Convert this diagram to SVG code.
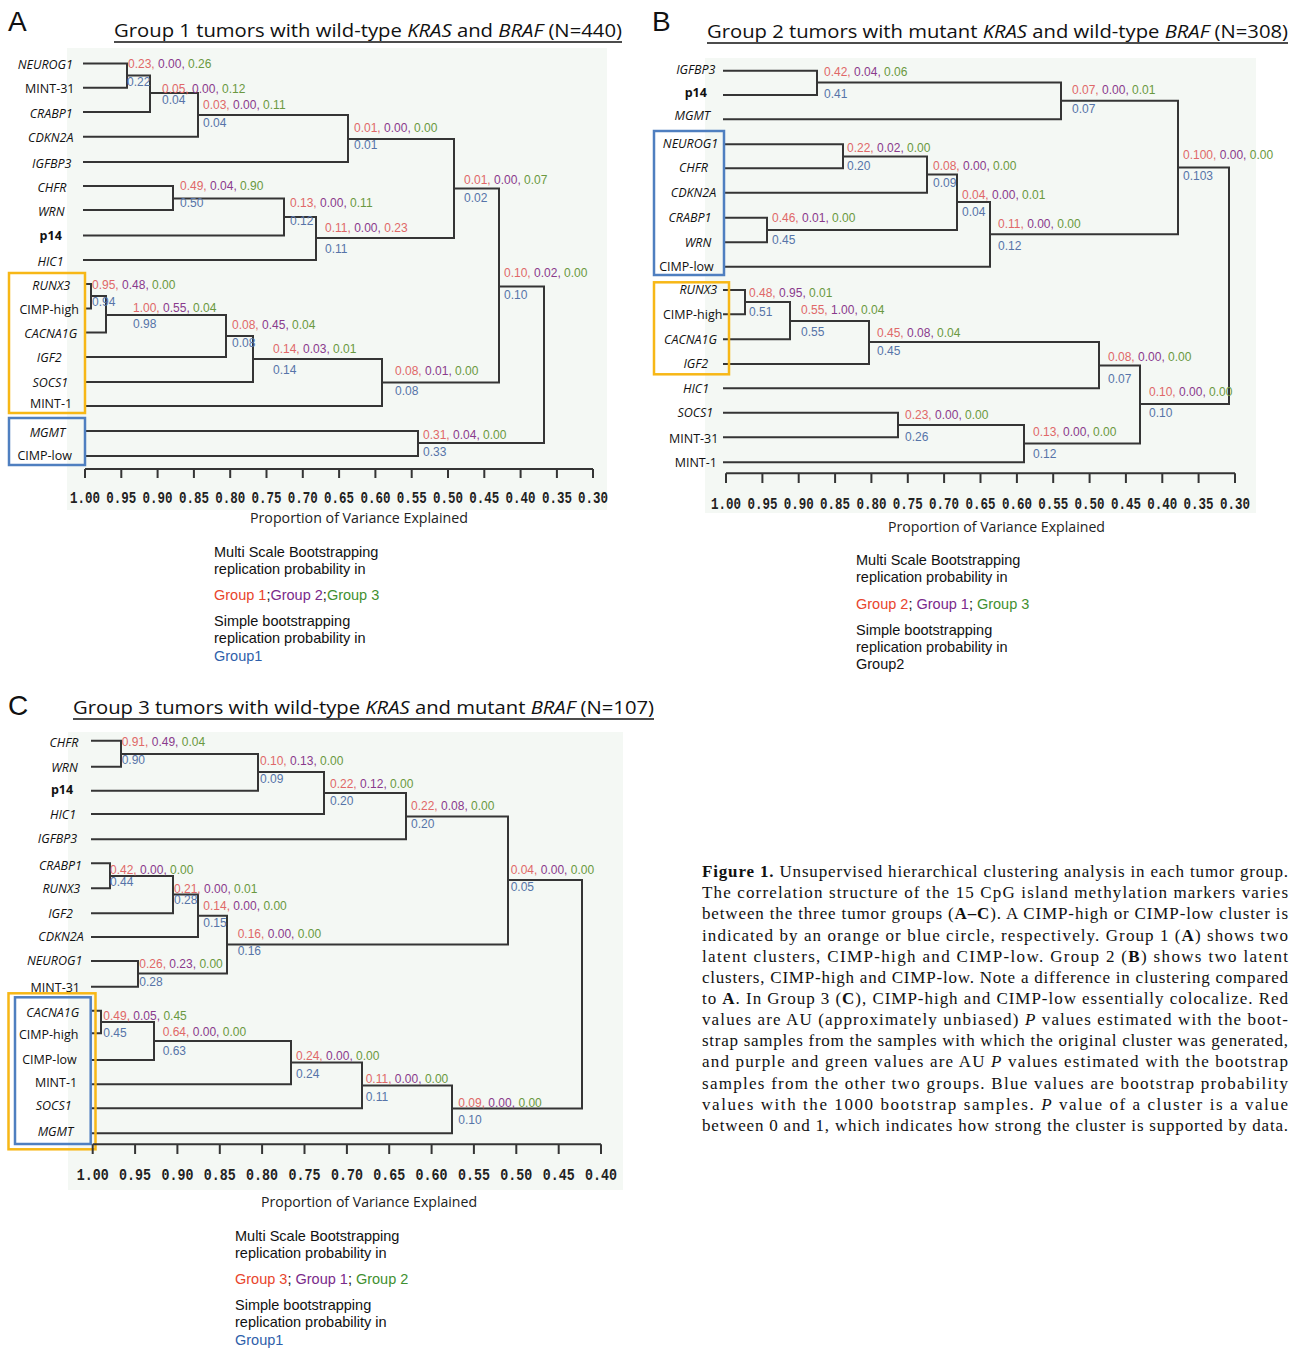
<svg xmlns="http://www.w3.org/2000/svg" width="1290" height="1348" viewBox="0 0 1290 1348">
<style>
.bg{fill:#f4f8f4}
.ln{fill:none;stroke:#353535;stroke-width:2}
.ax{fill:none;stroke:#353535;stroke-width:2}
.v{font-family:"Liberation Sans",Arial,sans-serif;font-size:12px}
.r{fill:#e06868}.p{fill:#8a3a8c}.g{fill:#6a9840}.b{fill:#5674a8}
.lab{font-family:"Open Sans","Liberation Sans",sans-serif;font-size:12.5px;text-anchor:middle;fill:#111}
.it{font-style:italic}.bd{font-weight:bold}
.tk{font-family:"Liberation Mono",monospace;font-weight:bold;font-size:16.5px;text-anchor:middle;fill:#222}
.xl{font-family:"Open Sans","Liberation Sans",sans-serif;font-size:14px;fill:#222}
.ttl{font-family:"Open Sans","Liberation Sans",sans-serif;font-size:19px;fill:#111}
.pl{font-family:"Liberation Sans",Arial,sans-serif;font-size:28px;fill:#111}
.lg{font-family:"Liberation Sans",Arial,sans-serif;font-size:14.5px;fill:#111}
.lr{fill:#e8452c}.lp{fill:#7a2a8a}.lgn{fill:#3f9030}.lb{fill:#2f5faa}
.ob{fill:none;stroke:#f7b716;stroke-width:2.5}
.bb{fill:none;stroke:#4f7fc0;stroke-width:2.5}
.cap{font-family:"Liberation Serif","Times New Roman",serif;font-size:17px;fill:#111}
</style>

<!-- Panel backgrounds -->
<rect class="bg" x="67" y="48" width="540" height="462"/>
<rect class="bg" x="705" y="58" width="551" height="455"/>
<rect class="bg" x="68" y="732" width="555" height="458"/>

<!-- Panel letters & titles -->
<text class="pl" x="8" y="31">A</text>
<text class="pl" x="652" y="31">B</text>
<text class="pl" x="8" y="715">C</text>
<text class="ttl" x="114" y="37" textLength="508" lengthAdjust="spacingAndGlyphs">Group 1 tumors with wild-type <tspan class="it">KRAS</tspan> and <tspan class="it">BRAF</tspan> (N=440)</text>
<line x1="114" y1="42" x2="622" y2="42" stroke="#111" stroke-width="1.5"/>
<text class="ttl" x="707" y="38" textLength="581" lengthAdjust="spacingAndGlyphs">Group 2 tumors with mutant <tspan class="it">KRAS</tspan> and wild-type <tspan class="it">BRAF</tspan> (N=308)</text>
<line x1="707" y1="43" x2="1288" y2="43" stroke="#111" stroke-width="1.5"/>
<text class="ttl" x="73" y="714" textLength="581" lengthAdjust="spacingAndGlyphs">Group 3 tumors with wild-type <tspan class="it">KRAS</tspan> and mutant <tspan class="it">BRAF</tspan> (N=107)</text>
<line x1="73" y1="719" x2="654" y2="719" stroke="#111" stroke-width="1.5"/>

<!-- Connectors -->
<g id="connectors">
<g id="connectors-A" class="ln">
<path d="M83 63.5 H127 V87.7 H83"/>
<path d="M127 75.5 H150 V112 H83"/>
<path d="M150 93 H198 V136.7 H83"/>
<path d="M198 115 H348 V162 H83"/>
<path d="M83 186 H173 V210 H83"/>
<path d="M173 198.5 H284 V235.5 H83"/>
<path d="M284 217 H316 V260 H83"/>
<path d="M348 139 H454 V238 H316"/>
<path d="M84 284 H91 V308.5 H84"/>
<path d="M91 296 H106 V332.5 H84"/>
<path d="M106 315 H226 V357 H84"/>
<path d="M226 336 H253 V382 H84"/>
<path d="M253 359 H382 V406 H84"/>
<path d="M454 188.5 H499 V382.5 H382"/>
<path d="M84 431 H418 V456 H84"/>
<path d="M499 286.5 H544 V443 H418"/>
</g>
<g id="connectors-B" class="ln">
<path d="M723 70.7 H817 V95 H723"/>
<path d="M817 82.5 H1061 V119.3 H723"/>
<path d="M723 144.3 H843 V168.3 H723"/>
<path d="M843 156.5 H927 V192.7 H723"/>
<path d="M723 217.7 H767 V242.3 H723"/>
<path d="M927 174.5 H957 V230 H767"/>
<path d="M957 202 H990 V266.7 H723"/>
<path d="M1061 100.7 H1178 V234.3 H990"/>
<path d="M723 290 H745 V314.3 H723"/>
<path d="M745 302 H790 V339.3 H723"/>
<path d="M790 321 H869 V364 H723"/>
<path d="M869 342 H1099 V388.3 H723"/>
<path d="M723 412.7 H898 V437.3 H723"/>
<path d="M898 425 H1024 V462.3 H723"/>
<path d="M1099 365.5 H1140 V443.5 H1024"/>
<path d="M1178 167.5 H1229 V404 H1140"/>
</g>
<g id="connectors-C" class="ln">
<path d="M91 740.7 H121 V766.7 H91"/>
<path d="M121 754 H258 V790.7 H91"/>
<path d="M258 772 H324 V814 H91"/>
<path d="M324 793 H406 V839.3 H91"/>
<path d="M91 863.3 H110 V888.3 H91"/>
<path d="M110 876 H173 V913.3 H91"/>
<path d="M173 894.5 H198 V937 H91"/>
<path d="M91 961 H138 V986.7 H91"/>
<path d="M198 915.7 H227 V973.5 H138"/>
<path d="M406 816.5 H508 V944.5 H227"/>
<path d="M91 1010.7 H101 V1033.3 H91"/>
<path d="M101 1022 H154 V1060 H91"/>
<path d="M154 1041 H291 V1084.3 H91"/>
<path d="M291 1062.5 H362 V1108.3 H91"/>
<path d="M362 1085.5 H452 V1133.3 H91"/>
<path d="M508 880 H582 V1108.5 H452"/>
</g>
</g>

<!-- Leaf nodes A -->
<g id="nodes-A">
<g id="A-NEUROG1"><text class="lab it" x="45.3" y="69">NEUROG1</text></g>
<g id="A-MINT-31"><text class="lab" x="49.8" y="93">MINT-31</text></g>
<g id="A-CRABP1"><text class="lab it" x="51.2" y="117.5">CRABP1</text></g>
<g id="A-CDKN2A"><text class="lab it" x="50.8" y="142">CDKN2A</text></g>
<g id="A-IGFBP3"><text class="lab it" x="51.7" y="167.5">IGFBP3</text></g>
<g id="A-CHFR"><text class="lab it" x="52" y="192">CHFR</text></g>
<g id="A-WRN"><text class="lab it" x="51.2" y="215.5">WRN</text></g>
<g id="A-p14"><text class="lab bd" x="50.7" y="240">p14</text></g>
<g id="A-HIC1"><text class="lab it" x="50.5" y="266">HIC1</text></g>
<g id="A-RUNX3"><text class="lab it" x="51.2" y="290">RUNX3</text></g>
<g id="A-CIMP-high"><text class="lab" x="49.2" y="314">CIMP-high</text></g>
<g id="A-CACNA1G"><text class="lab it" x="50.8" y="338">CACNA1G</text></g>
<g id="A-IGF2"><text class="lab it" x="49.2" y="362">IGF2</text></g>
<g id="A-SOCS1"><text class="lab it" x="50.3" y="387">SOCS1</text></g>
<g id="A-MINT-1"><text class="lab" x="51" y="408">MINT-1</text></g>
<g id="A-MGMT"><text class="lab it" x="47.5" y="436.5">MGMT</text></g>
<g id="A-CIMP-low"><text class="lab" x="44.7" y="460">CIMP-low</text></g>
<rect class="ob" x="9" y="273" width="76" height="140"/>
<rect class="bb" x="9" y="418" width="76" height="47"/>
</g>

<!-- Values A -->
<g id="values-A" class="v">
<text x="128" y="68"><tspan class="r">0.23,</tspan> <tspan class="p">0.00,</tspan> <tspan class="g">0.26</tspan></text><text class="b" x="127" y="86">0.22</text>
<text x="162" y="92.5"><tspan class="r">0.05,</tspan> <tspan class="p">0.00,</tspan> <tspan class="g">0.12</tspan></text><text class="b" x="162" y="104">0.04</text>
<text x="203" y="109"><tspan class="r">0.03,</tspan> <tspan class="p">0.00,</tspan> <tspan class="g">0.11</tspan></text><text class="b" x="203" y="127">0.04</text>
<text x="354" y="131.5"><tspan class="r">0.01,</tspan> <tspan class="p">0.00,</tspan> <tspan class="g">0.00</tspan></text><text class="b" x="354" y="149">0.01</text>
<text x="464" y="184"><tspan class="r">0.01,</tspan> <tspan class="p">0.00,</tspan> <tspan class="g">0.07</tspan></text><text class="b" x="464" y="201.5">0.02</text>
<text x="180" y="190"><tspan class="r">0.49,</tspan> <tspan class="p">0.04,</tspan> <tspan class="g">0.90</tspan></text><text class="b" x="180" y="207">0.50</text>
<text x="290" y="206.5"><tspan class="r">0.13,</tspan> <tspan class="p">0.00,</tspan> <tspan class="g">0.11</tspan></text><text class="b" x="290" y="225">0.12</text>
<text x="325" y="232"><tspan class="r">0.11,</tspan> <tspan class="p">0.00,</tspan> <tspan class="r">0.23</tspan></text><text class="b" x="325" y="253">0.11</text>
<text x="504" y="277"><tspan class="r">0.10,</tspan> <tspan class="p">0.02,</tspan> <tspan class="g">0.00</tspan></text><text class="b" x="504" y="299">0.10</text>
<text x="92" y="289"><tspan class="r">0.95,</tspan> <tspan class="p">0.48,</tspan> <tspan class="g">0.00</tspan></text><text class="b" x="92" y="306">0.94</text>
<text x="133" y="311.5"><tspan class="r">1.00,</tspan> <tspan class="p">0.55,</tspan> <tspan class="g">0.04</tspan></text><text class="b" x="133" y="328">0.98</text>
<text x="232" y="329"><tspan class="r">0.08,</tspan> <tspan class="p">0.45,</tspan> <tspan class="g">0.04</tspan></text><text class="b" x="232" y="347">0.08</text>
<text x="273" y="353"><tspan class="r">0.14,</tspan> <tspan class="p">0.03,</tspan> <tspan class="g">0.01</tspan></text><text class="b" x="273" y="374">0.14</text>
<text x="395" y="375"><tspan class="r">0.08,</tspan> <tspan class="p">0.01,</tspan> <tspan class="g">0.00</tspan></text><text class="b" x="395" y="395">0.08</text>
<text x="423" y="439"><tspan class="r">0.31,</tspan> <tspan class="p">0.04,</tspan> <tspan class="g">0.00</tspan></text><text class="b" x="423" y="456">0.33</text>
</g>

<!-- Axis A -->
<g id="axis-A">
<path class="ax" d="M85 469 H593 M85 469 V478 M121.3 469 V478 M157.6 469 V478 M193.9 469 V478 M230.2 469 V478 M266.5 469 V478 M302.8 469 V478 M339.1 469 V478 M375.4 469 V478 M411.7 469 V478 M448 469 V478 M484.3 469 V478 M520.6 469 V478 M556.9 469 V478 M593 469 V478"/>
<text class="tk" x="85" y="503" textLength="30" lengthAdjust="spacingAndGlyphs">1.00</text>
<text class="tk" x="121.3" y="503" textLength="30" lengthAdjust="spacingAndGlyphs">0.95</text>
<text class="tk" x="157.6" y="503" textLength="30" lengthAdjust="spacingAndGlyphs">0.90</text>
<text class="tk" x="193.9" y="503" textLength="30" lengthAdjust="spacingAndGlyphs">0.85</text>
<text class="tk" x="230.2" y="503" textLength="30" lengthAdjust="spacingAndGlyphs">0.80</text>
<text class="tk" x="266.5" y="503" textLength="30" lengthAdjust="spacingAndGlyphs">0.75</text>
<text class="tk" x="302.8" y="503" textLength="30" lengthAdjust="spacingAndGlyphs">0.70</text>
<text class="tk" x="339.1" y="503" textLength="30" lengthAdjust="spacingAndGlyphs">0.65</text>
<text class="tk" x="375.4" y="503" textLength="30" lengthAdjust="spacingAndGlyphs">0.60</text>
<text class="tk" x="411.7" y="503" textLength="30" lengthAdjust="spacingAndGlyphs">0.55</text>
<text class="tk" x="448" y="503" textLength="30" lengthAdjust="spacingAndGlyphs">0.50</text>
<text class="tk" x="484.3" y="503" textLength="30" lengthAdjust="spacingAndGlyphs">0.45</text>
<text class="tk" x="520.6" y="503" textLength="30" lengthAdjust="spacingAndGlyphs">0.40</text>
<text class="tk" x="556.9" y="503" textLength="30" lengthAdjust="spacingAndGlyphs">0.35</text>
<text class="tk" x="593" y="503" textLength="30" lengthAdjust="spacingAndGlyphs">0.30</text>
<text class="xl" x="250" y="523" textLength="218" lengthAdjust="spacingAndGlyphs">Proportion of Variance Explained</text>
</g>

<!-- Legend A -->
<g id="legend-A" class="lg">
<text x="214" y="557">Multi Scale Bootstrapping</text>
<text x="214" y="574">replication probability in</text>
<text x="214" y="600"><tspan class="lr">Group 1</tspan>;<tspan class="lp">Group 2</tspan>;<tspan class="lgn">Group 3</tspan></text>
<text x="214" y="626">Simple bootstrapping</text>
<text x="214" y="643">replication probability in</text>
<text x="214" y="661" class="lb">Group1</text>
</g>

<!-- Leaf nodes B -->
<g id="nodes-B">
<g id="B-IGFBP3"><text class="lab it" x="695.8" y="74">IGFBP3</text></g>
<g id="B-p14"><text class="lab bd" x="695.8" y="96.5">p14</text></g>
<g id="B-MGMT"><text class="lab it" x="692.3" y="120">MGMT</text></g>
<g id="B-NEUROG1"><text class="lab it" x="690.5" y="148">NEUROG1</text></g>
<g id="B-CHFR"><text class="lab it" x="693.5" y="172">CHFR</text></g>
<g id="B-CDKN2A"><text class="lab it" x="693.5" y="196.5">CDKN2A</text></g>
<g id="B-CRABP1"><text class="lab it" x="690" y="222">CRABP1</text></g>
<g id="B-WRN"><text class="lab it" x="698" y="246.5">WRN</text></g>
<g id="B-CIMP-low"><text class="lab" x="686.5" y="271">CIMP-low</text></g>
<g id="B-RUNX3"><text class="lab it" x="698.3" y="294">RUNX3</text></g>
<g id="B-CIMP-high"><text class="lab" x="692.7" y="319">CIMP-high</text></g>
<g id="B-CACNA1G"><text class="lab it" x="690.5" y="344">CACNA1G</text></g>
<g id="B-IGF2"><text class="lab it" x="695.8" y="368">IGF2</text></g>
<g id="B-HIC1"><text class="lab it" x="696" y="392.5">HIC1</text></g>
<g id="B-SOCS1"><text class="lab it" x="695.3" y="416.5">SOCS1</text></g>
<g id="B-MINT-31"><text class="lab" x="693.7" y="442.5">MINT-31</text></g>
<g id="B-MINT-1"><text class="lab" x="695.8" y="466.5">MINT-1</text></g>
<rect class="bb" x="654" y="131" width="70" height="144"/>
<rect class="ob" x="654" y="282.3" width="75" height="92"/>
</g>

<!-- Values B -->
<g id="values-B" class="v">
<text x="824" y="76"><tspan class="r">0.42,</tspan> <tspan class="p">0.04,</tspan> <tspan class="g">0.06</tspan></text><text class="b" x="824" y="98">0.41</text>
<text x="1072" y="94"><tspan class="r">0.07,</tspan> <tspan class="p">0.00,</tspan> <tspan class="g">0.01</tspan></text><text class="b" x="1072" y="112.5">0.07</text>
<text x="847" y="152"><tspan class="r">0.22,</tspan> <tspan class="p">0.02,</tspan> <tspan class="g">0.00</tspan></text><text class="b" x="847" y="169.5">0.20</text>
<text x="933" y="169.5"><tspan class="r">0.08,</tspan> <tspan class="p">0.00,</tspan> <tspan class="g">0.00</tspan></text><text class="b" x="933" y="187">0.09</text>
<text x="962" y="198.5"><tspan class="r">0.04,</tspan> <tspan class="p">0.00,</tspan> <tspan class="g">0.01</tspan></text><text class="b" x="962" y="216">0.04</text>
<text x="772" y="221.5"><tspan class="r">0.46,</tspan> <tspan class="p">0.01,</tspan> <tspan class="g">0.00</tspan></text><text class="b" x="772" y="243.5">0.45</text>
<text x="998" y="228"><tspan class="r">0.11,</tspan> <tspan class="p">0.00,</tspan> <tspan class="g">0.00</tspan></text><text class="b" x="998" y="250">0.12</text>
<text x="1183" y="158.5"><tspan class="r">0.100,</tspan> <tspan class="p">0.00,</tspan> <tspan class="g">0.00</tspan></text><text class="b" x="1183" y="180">0.103</text>
<text x="749" y="297"><tspan class="r">0.48,</tspan> <tspan class="p">0.95,</tspan> <tspan class="g">0.01</tspan></text><text class="b" x="749" y="316">0.51</text>
<text x="801" y="314"><tspan class="r">0.55,</tspan> <tspan class="p">1.00,</tspan> <tspan class="g">0.04</tspan></text><text class="b" x="801" y="336">0.55</text>
<text x="877" y="337"><tspan class="r">0.45,</tspan> <tspan class="p">0.08,</tspan> <tspan class="g">0.04</tspan></text><text class="b" x="877" y="354.5">0.45</text>
<text x="1108" y="361"><tspan class="r">0.08,</tspan> <tspan class="p">0.00,</tspan> <tspan class="g">0.00</tspan></text><text class="b" x="1108" y="382.5">0.07</text>
<text x="1149" y="395.5"><tspan class="r">0.10,</tspan> <tspan class="p">0.00,</tspan> <tspan class="g">0.00</tspan></text><text class="b" x="1149" y="417">0.10</text>
<text x="905" y="419"><tspan class="r">0.23,</tspan> <tspan class="p">0.00,</tspan> <tspan class="g">0.00</tspan></text><text class="b" x="905" y="440.5">0.26</text>
<text x="1033" y="436"><tspan class="r">0.13,</tspan> <tspan class="p">0.00,</tspan> <tspan class="g">0.00</tspan></text><text class="b" x="1033" y="458">0.12</text>
</g>

<!-- Axis B -->
<g id="axis-B">
<path class="ax" d="M726 473.3 H1235 M726 473.3 V483 M762.4 473.3 V483 M798.7 473.3 V483 M835.1 473.3 V483 M871.4 473.3 V483 M907.8 473.3 V483 M944.1 473.3 V483 M980.5 473.3 V483 M1016.9 473.3 V483 M1053.2 473.3 V483 M1089.6 473.3 V483 M1125.9 473.3 V483 M1162.3 473.3 V483 M1198.6 473.3 V483 M1235 473.3 V483"/>
<text class="tk" x="726" y="509" textLength="30" lengthAdjust="spacingAndGlyphs">1.00</text>
<text class="tk" x="762.4" y="509" textLength="30" lengthAdjust="spacingAndGlyphs">0.95</text>
<text class="tk" x="798.7" y="509" textLength="30" lengthAdjust="spacingAndGlyphs">0.90</text>
<text class="tk" x="835.1" y="509" textLength="30" lengthAdjust="spacingAndGlyphs">0.85</text>
<text class="tk" x="871.4" y="509" textLength="30" lengthAdjust="spacingAndGlyphs">0.80</text>
<text class="tk" x="907.8" y="509" textLength="30" lengthAdjust="spacingAndGlyphs">0.75</text>
<text class="tk" x="944.1" y="509" textLength="30" lengthAdjust="spacingAndGlyphs">0.70</text>
<text class="tk" x="980.5" y="509" textLength="30" lengthAdjust="spacingAndGlyphs">0.65</text>
<text class="tk" x="1016.9" y="509" textLength="30" lengthAdjust="spacingAndGlyphs">0.60</text>
<text class="tk" x="1053.2" y="509" textLength="30" lengthAdjust="spacingAndGlyphs">0.55</text>
<text class="tk" x="1089.6" y="509" textLength="30" lengthAdjust="spacingAndGlyphs">0.50</text>
<text class="tk" x="1125.9" y="509" textLength="30" lengthAdjust="spacingAndGlyphs">0.45</text>
<text class="tk" x="1162.3" y="509" textLength="30" lengthAdjust="spacingAndGlyphs">0.40</text>
<text class="tk" x="1198.6" y="509" textLength="30" lengthAdjust="spacingAndGlyphs">0.35</text>
<text class="tk" x="1235" y="509" textLength="30" lengthAdjust="spacingAndGlyphs">0.30</text>
<text class="xl" x="888" y="532" textLength="217" lengthAdjust="spacingAndGlyphs">Proportion of Variance Explained</text>
</g>

<!-- Legend B -->
<g id="legend-B" class="lg">
<text x="856" y="565">Multi Scale Bootstrapping</text>
<text x="856" y="582">replication probability in</text>
<text x="856" y="609"><tspan class="lr">Group 2</tspan>; <tspan class="lp">Group 1</tspan>; <tspan class="lgn">Group 3</tspan></text>
<text x="856" y="635">Simple bootstrapping</text>
<text x="856" y="652">replication probability in</text>
<text x="856" y="669">Group2</text>
</g>

<!-- Leaf nodes C -->
<g id="nodes-C">
<g id="C-CHFR"><text class="lab it" x="64" y="746.5">CHFR</text></g>
<g id="C-WRN"><text class="lab it" x="64.5" y="771.5">WRN</text></g>
<g id="C-p14"><text class="lab bd" x="62" y="793.5">p14</text></g>
<g id="C-HIC1"><text class="lab it" x="63" y="818.5">HIC1</text></g>
<g id="C-IGFBP3"><text class="lab it" x="57.5" y="842.5">IGFBP3</text></g>
<g id="C-CRABP1"><text class="lab it" x="60.5" y="870">CRABP1</text></g>
<g id="C-RUNX3"><text class="lab it" x="61.3" y="893.3">RUNX3</text></g>
<g id="C-IGF2"><text class="lab it" x="60.5" y="918.3">IGF2</text></g>
<g id="C-CDKN2A"><text class="lab it" x="61" y="941">CDKN2A</text></g>
<g id="C-NEUROG1"><text class="lab it" x="54.7" y="964.5">NEUROG1</text></g>
<g id="C-MINT-31"><text class="lab" x="55.3" y="992">MINT-31</text></g>
<g id="C-CACNA1G"><text class="lab it" x="52.8" y="1016.5">CACNA1G</text></g>
<g id="C-CIMP-high"><text class="lab" x="48.7" y="1039">CIMP-high</text></g>
<g id="C-CIMP-low"><text class="lab" x="49.5" y="1064">CIMP-low</text></g>
<g id="C-MINT-1"><text class="lab" x="56" y="1087">MINT-1</text></g>
<g id="C-SOCS1"><text class="lab it" x="53.7" y="1109.5">SOCS1</text></g>
<g id="C-MGMT"><text class="lab it" x="55.5" y="1136">MGMT</text></g>
<rect class="ob" x="8.5" y="993.3" width="87" height="156"/>
<rect class="bb" x="15" y="997.3" width="75.7" height="146.7"/>
</g>

<!-- Values C -->
<g id="values-C" class="v">
<text x="121.7" y="746"><tspan class="r">0.91,</tspan> <tspan class="p">0.49,</tspan> <tspan class="g">0.04</tspan></text><text class="b" x="121.7" y="764">0.90</text>
<text x="260" y="765"><tspan class="r">0.10,</tspan> <tspan class="p">0.13,</tspan> <tspan class="g">0.00</tspan></text><text class="b" x="260" y="782.5">0.09</text>
<text x="330" y="787.5"><tspan class="r">0.22,</tspan> <tspan class="p">0.12,</tspan> <tspan class="g">0.00</tspan></text><text class="b" x="330" y="804.5">0.20</text>
<text x="411" y="810"><tspan class="r">0.22,</tspan> <tspan class="p">0.08,</tspan> <tspan class="g">0.00</tspan></text><text class="b" x="411" y="827.5">0.20</text>
<text x="510.7" y="874"><tspan class="r">0.04,</tspan> <tspan class="p">0.00,</tspan> <tspan class="g">0.00</tspan></text><text class="b" x="510.7" y="891">0.05</text>
<text x="110" y="874"><tspan class="r">0.42,</tspan> <tspan class="p">0.00,</tspan> <tspan class="g">0.00</tspan></text><text class="b" x="110" y="886">0.44</text>
<text x="174" y="892.7"><tspan class="r">0.21,</tspan> <tspan class="p">0.00,</tspan> <tspan class="g">0.01</tspan></text><text class="b" x="174" y="904">0.28</text>
<text x="203.3" y="910"><tspan class="r">0.14,</tspan> <tspan class="p">0.00,</tspan> <tspan class="g">0.00</tspan></text><text class="b" x="203.3" y="927">0.15</text>
<text x="237.7" y="938"><tspan class="r">0.16,</tspan> <tspan class="p">0.00,</tspan> <tspan class="g">0.00</tspan></text><text class="b" x="237.7" y="955">0.16</text>
<text x="139.3" y="968"><tspan class="r">0.26,</tspan> <tspan class="p">0.23,</tspan> <tspan class="g">0.00</tspan></text><text class="b" x="139.3" y="985.5">0.28</text>
<text x="103.3" y="1019.5"><tspan class="r">0.49,</tspan> <tspan class="p">0.05,</tspan> <tspan class="g">0.45</tspan></text><text class="b" x="103.3" y="1037">0.45</text>
<text x="162.7" y="1036"><tspan class="r">0.64,</tspan> <tspan class="p">0.00,</tspan> <tspan class="g">0.00</tspan></text><text class="b" x="162.7" y="1054.5">0.63</text>
<text x="296" y="1060"><tspan class="r">0.24,</tspan> <tspan class="p">0.00,</tspan> <tspan class="g">0.00</tspan></text><text class="b" x="296" y="1077.5">0.24</text>
<text x="365.7" y="1083"><tspan class="r">0.11,</tspan> <tspan class="p">0.00,</tspan> <tspan class="g">0.00</tspan></text><text class="b" x="365.7" y="1100.5">0.11</text>
<text x="458.3" y="1107"><tspan class="r">0.09,</tspan> <tspan class="p">0.00,</tspan> <tspan class="g">0.00</tspan></text><text class="b" x="458.3" y="1123.5">0.10</text>
</g>

<!-- Axis C -->
<g id="axis-C">
<path class="ax" d="M92.7 1144.3 H601 M92.7 1144.3 V1154 M135.1 1144.3 V1154 M177.4 1144.3 V1154 M219.8 1144.3 V1154 M262.1 1144.3 V1154 M304.5 1144.3 V1154 M346.9 1144.3 V1154 M389.2 1144.3 V1154 M431.6 1144.3 V1154 M473.9 1144.3 V1154 M516.3 1144.3 V1154 M558.7 1144.3 V1154 M601 1144.3 V1154"/>
<text class="tk" x="92.7" y="1180" textLength="32" lengthAdjust="spacingAndGlyphs">1.00</text>
<text class="tk" x="135.1" y="1180" textLength="32" lengthAdjust="spacingAndGlyphs">0.95</text>
<text class="tk" x="177.4" y="1180" textLength="32" lengthAdjust="spacingAndGlyphs">0.90</text>
<text class="tk" x="219.8" y="1180" textLength="32" lengthAdjust="spacingAndGlyphs">0.85</text>
<text class="tk" x="262.1" y="1180" textLength="32" lengthAdjust="spacingAndGlyphs">0.80</text>
<text class="tk" x="304.5" y="1180" textLength="32" lengthAdjust="spacingAndGlyphs">0.75</text>
<text class="tk" x="346.9" y="1180" textLength="32" lengthAdjust="spacingAndGlyphs">0.70</text>
<text class="tk" x="389.2" y="1180" textLength="32" lengthAdjust="spacingAndGlyphs">0.65</text>
<text class="tk" x="431.6" y="1180" textLength="32" lengthAdjust="spacingAndGlyphs">0.60</text>
<text class="tk" x="473.9" y="1180" textLength="32" lengthAdjust="spacingAndGlyphs">0.55</text>
<text class="tk" x="516.3" y="1180" textLength="32" lengthAdjust="spacingAndGlyphs">0.50</text>
<text class="tk" x="558.7" y="1180" textLength="32" lengthAdjust="spacingAndGlyphs">0.45</text>
<text class="tk" x="601" y="1180" textLength="32" lengthAdjust="spacingAndGlyphs">0.40</text>
<text class="xl" x="261" y="1207" textLength="216" lengthAdjust="spacingAndGlyphs">Proportion of Variance Explained</text>
</g>

<!-- Legend C -->
<g id="legend-C" class="lg">
<text x="235" y="1241">Multi Scale Bootstrapping</text>
<text x="235" y="1258">replication probability in</text>
<text x="235" y="1284"><tspan class="lr">Group 3</tspan>; <tspan class="lp">Group 1</tspan>; <tspan class="lgn">Group 2</tspan></text>
<text x="235" y="1310">Simple bootstrapping</text>
<text x="235" y="1327">replication probability in</text>
<text x="235" y="1345" class="lb">Group1</text>
</g>

<!-- Caption -->
<g id="caption" class="cap">
<text x="702" y="877" textLength="586" lengthAdjust="spacing"><tspan font-weight="bold">Figure 1.</tspan>  Unsupervised hierarchical clustering analysis in each tumor group.</text>
<text x="702" y="898.2" textLength="586" lengthAdjust="spacing">The correlation structure of the 15 CpG island methylation markers varies</text>
<text x="702" y="919.3" textLength="586" lengthAdjust="spacing">between the three tumor groups (<tspan font-weight="bold">A–C</tspan>). A CIMP-high or CIMP-low cluster is</text>
<text x="702" y="940.5" textLength="586" lengthAdjust="spacing">indicated by an orange or blue circle, respectively. Group 1 (<tspan font-weight="bold">A</tspan>) shows two</text>
<text x="702" y="961.6" textLength="586" lengthAdjust="spacing">latent clusters, CIMP-high and CIMP-low. Group 2 (<tspan font-weight="bold">B</tspan>) shows two latent</text>
<text x="702" y="982.8" textLength="586" lengthAdjust="spacing">clusters, CIMP-high and CIMP-low. Note a difference in clustering compared</text>
<text x="702" y="1003.9" textLength="586" lengthAdjust="spacing">to <tspan font-weight="bold">A</tspan>. In Group 3 (<tspan font-weight="bold">C</tspan>), CIMP-high and CIMP-low essentially colocalize. Red</text>
<text x="702" y="1025.1" textLength="586" lengthAdjust="spacing">values are AU (approximately unbiased) <tspan font-style="italic">P</tspan> values estimated with the boot-</text>
<text x="702" y="1046.2" textLength="586" lengthAdjust="spacing">strap samples from the samples with which the original cluster was generated,</text>
<text x="702" y="1067.4" textLength="586" lengthAdjust="spacing">and purple and green values are AU <tspan font-style="italic">P</tspan> values estimated with the bootstrap</text>
<text x="702" y="1088.5" textLength="586" lengthAdjust="spacing">samples from the other two groups. Blue values are bootstrap probability</text>
<text x="702" y="1109.7" textLength="586" lengthAdjust="spacing">values with the 1000 bootstrap samples. <tspan font-style="italic">P</tspan> value of a cluster is a value</text>
<text x="702" y="1130.8" textLength="586" lengthAdjust="spacing">between 0 and 1, which indicates how strong the cluster is supported by data.</text>
</g>
</svg>
